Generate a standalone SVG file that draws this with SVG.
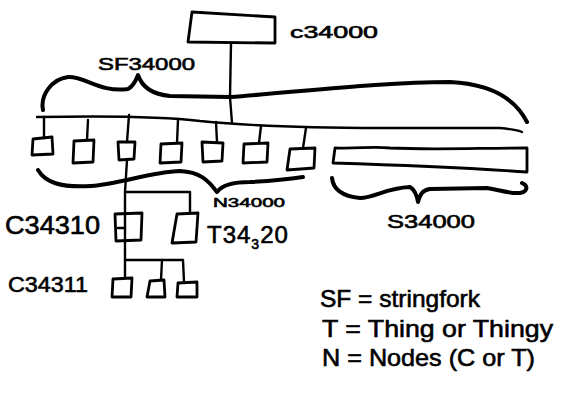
<svg xmlns="http://www.w3.org/2000/svg" width="567" height="400" viewBox="0 0 567 400">
<style>
  .ln{fill:none;stroke:#000;stroke-width:2.4;stroke-linecap:round;stroke-linejoin:round}
  .br{fill:none;stroke:#000;stroke-width:4;stroke-linecap:round;stroke-linejoin:round}
  .bx{fill:none;stroke:#000;stroke-width:2.8;stroke-linejoin:round}
  .t{font-family:"Liberation Sans","DejaVu Sans",sans-serif;fill:#000;stroke:#000;stroke-width:0.6}
</style>
<rect width="567" height="400" fill="#fff"/>
<g id="connectors">
  <path class="ln" d="M231,43 L230,97 L232,123"/>
  <path class="ln" d="M37,117 C90,116 160,116 200,121 C240,125 300,128 380,128 L500,128 C510,129 518,130 522,132"/>
  <path class="ln" d="M44,117 L44,138"/>
  <path class="ln" d="M88,120 L87,140"/>
  <path class="ln" d="M129,115 L127,142"/>
  <path class="ln" d="M178,120 L177,143"/>
  <path class="ln" d="M216,122 L217,142"/>
  <path class="ln" d="M261,126 L259,143"/>
  <path class="ln" d="M306,128 L303,148"/>
  <path class="ln" d="M127,160 L125,192 L125,278"/>
  <path class="ln" d="M125,192 L190,192 L190,213"/>
  <path class="ln" d="M125,260 L183,260 L184,282"/>
  <path class="ln" d="M162,260 L161,280"/>
  <path class="ln" d="M118,228 L125,228"/>
</g>
<g id="brace-SF34000">
  <path class="br" d="M43,110 C40,95 52,79 68,77 C85,76 100,93 128,89 C134,86 136,80 138,75 C141,84 148,94 170,96 L230,97 C300,92 380,82 450,82 C490,84 515,98 527,122"/>
  <text class="t" x="98" y="70" font-size="17" textLength="97" lengthAdjust="spacingAndGlyphs">SF34000</text>
</g>
<g id="brace-N34000">
  <path class="br" d="M38,170 C45,182 60,188 91,186 C120,184 150,172 180,171 C200,172 208,180 217,192 C222,185 232,182 250,182 C270,181 290,179 303,177" stroke-width="3.4"/>
  <text class="t" x="213" y="207" font-size="13" textLength="72" lengthAdjust="spacingAndGlyphs">N34000</text>
</g>
<g id="brace-S34000">
  <path class="br" d="M332,178 C333,188 340,196 360,198 C375,198 385,188 410,187 C415,190 417,196 418,202 C420,195 422,190 430,189 L487,188 C500,190 510,194 520,193 C527,192 529,186 522,183" stroke-width="3.4"/>
  <text class="t" x="387" y="228" font-size="18" textLength="88" lengthAdjust="spacingAndGlyphs">S34000</text>
</g>
<g id="node-c34000">
  <path class="bx" d="M192,12 L275,17 L275,43 L188,42 Z"/>
  <text class="t" x="290" y="38" font-size="17" textLength="88" lengthAdjust="spacingAndGlyphs">c34000</text>
</g>
<g id="node-n1"><path class="bx" d="M33,139 L52,137 L53,154 L32,155 Z"/></g>
<g id="node-n2"><path class="bx" d="M74,141 L94,140 L93,162 L73,163 Z"/></g>
<g id="node-n3"><path class="bx" d="M118,142 L135,142 L134,159 L119,160 Z"/></g>
<g id="node-n4"><path class="bx" d="M161,144 L182,143 L181,162 L160,163 Z"/></g>
<g id="node-n5"><path class="bx" d="M202,142 L223,143 L222,161 L203,162 Z"/></g>
<g id="node-n6"><path class="bx" d="M244,144 L268,143 L267,162 L243,163 Z"/></g>
<g id="node-n7"><path class="bx" d="M290,149 L315,148 L314,168 L287,170 Z"/></g>
<g id="node-string">
  <path class="bx" d="M335,148 C360,149 370,146 390,148 C430,150 480,148 527,148 L527,172 C470,168 400,165 333,163 Z"/>
</g>
<g id="node-C34310">
  <path class="bx" d="M115,214 L142,213 L141,240 L116,241 Z"/>
  <text class="t" x="5" y="234" font-size="25" textLength="95" lengthAdjust="spacingAndGlyphs">C34310</text>
</g>
<g id="node-T34320">
  <path class="bx" d="M177,214 L198,213 L196,242 L172,243 Z"/>
  <text class="t" x="207" y="243" font-size="24" letter-spacing="1">T34<tspan font-size="14" dy="6">3</tspan><tspan dy="-6">20</tspan></text>
</g>
<g id="node-C34311">
  <path class="bx" d="M113,279 L132,278 L131,297 L112,297 Z"/>
  <text class="t" x="8" y="292" font-size="22" textLength="80" lengthAdjust="spacingAndGlyphs">C34311</text>
</g>
<g id="node-c2"><path class="bx" d="M150,281 L164,280 L165,297 L147,297 Z"/></g>
<g id="node-c3"><path class="bx" d="M178,283 L197,282 L197,297 L177,297 Z"/></g>
<g id="legend">
  <text class="t" x="320" y="307" font-size="24" textLength="160" lengthAdjust="spacingAndGlyphs">SF = stringfork</text>
  <text class="t" x="322" y="337" font-size="24" textLength="231" lengthAdjust="spacingAndGlyphs">T = Thing or Thingy</text>
  <text class="t" x="322" y="366" font-size="24" textLength="213" lengthAdjust="spacingAndGlyphs">N = Nodes (C or T)</text>
</g>
</svg>
